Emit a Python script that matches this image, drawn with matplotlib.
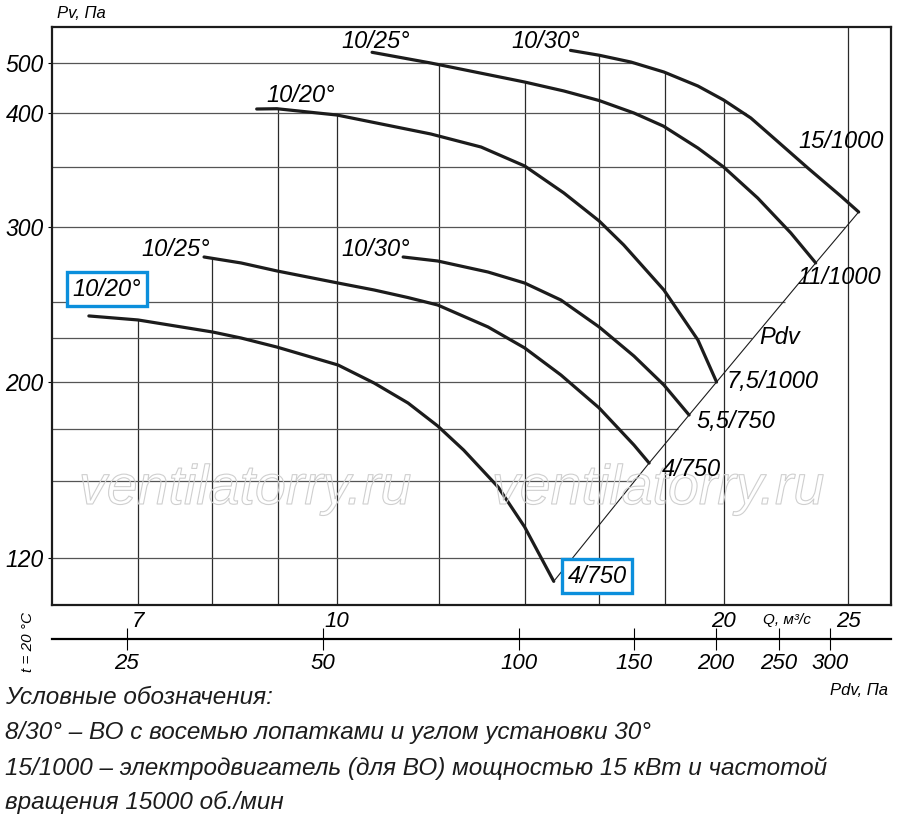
import numpy as np
import matplotlib
matplotlib.use('Agg')
import matplotlib.pyplot as plt
import matplotlib.patheffects as pe
from matplotlib.ticker import NullLocator

plt.rcParams['font.family'] = ['Liberation Sans', 'DejaVu Sans']

# fan curves: flow rate Q (m3/s) and static pressure Pv (Pa)
# lower group
q_20_low = [6.41, 7.0, 8.0, 8.42, 8.98, 10.02, 10.69, 11.36, 11.98, 12.55, 13.35, 14.0, 14.75]
pv_20_low = [240.0, 237.2, 229.0, 225.0, 219.6, 209.3, 199.4, 188.4, 176.5, 164.4, 147.4, 131.3, 112.3]
q_25_low = [7.88, 8.42, 8.98, 10.02, 10.69, 11.36, 11.98, 13.11, 14.0, 14.94, 16.0, 17.03, 17.5]
pv_25_low = [278.9, 274.9, 269.6, 261.8, 257.4, 252.7, 247.8, 232.4, 219.1, 203.8, 185.8, 166.9, 158.2]
q_30_low = [11.26, 11.98, 13.11, 14.0, 14.94, 16.0, 17.03, 17.97, 18.8]
pv_30_low = [278.9, 276.2, 268.9, 261.8, 251.2, 232.4, 214.4, 198.3, 182.1]
# upper group
q_20_up = [8.66, 8.98, 10.0, 11.83, 12.95, 14.0, 15.02, 16.0, 16.72, 17.97, 19.1, 19.75]
pv_20_up = [407.2, 407.7, 398.0, 379.8, 367.7, 350.9, 327.4, 304.7, 287.2, 257.4, 223.8, 200.0]
q_25_up = [10.65, 11.83, 14.0, 15.02, 16.0, 17.03, 17.95, 19.1, 20.0, 21.26, 22.56, 23.59]
pv_25_up = [525.2, 500, 459.3, 441.3, 422.9, 400, 387.3, 366.8, 350, 323.2, 295.7, 274.9]
q_30_up = [15.2, 16.0, 16.94, 17.97, 19.1, 20.0, 21.0, 21.88, 23.26, 24.67, 25.48]
pv_30_up = [529.9, 518.2, 502.2, 480.3, 451.2, 423.9, 395.1, 376.0, 349.1, 324.9, 311.8]

curves = [(q_20_low, pv_20_low), (q_25_low, pv_25_low), (q_30_low, pv_30_low),
          (q_20_up, pv_20_up), (q_25_up, pv_25_up), (q_30_up, pv_30_up)]

q_grid = [7, 8, 9, 10, 12, 14, 16, 18, 20, 25]
q_ticks = [7, 10, 20, 25]
pv_grid = [120, 150, 175, 200, 225, 250, 300, 350, 400, 500]
pv_ticks = [120, 200, 300, 400, 500]
pdv_ticks = [25, 50, 100, 150, 200, 250, 300]

# the printed Pv scale is not a clean log scale: spacing of its marks (px above bottom)
scale_vals = [105, 120, 150, 175, 200, 225, 250, 300, 350, 400, 500, 590]
scale_pos = [0, 47, 124, 176, 223, 267, 303, 378, 438, 492, 542, 578]
lv = np.log(scale_vals)

def fwd(v):
    return np.interp(np.log(np.clip(v, 1e-6, None)), lv, scale_pos)

def inv(s):
    return np.exp(np.interp(s, scale_pos, lv))

W, H = 900, 830
fig = plt.figure(figsize=(9, 8.3), dpi=100)
L, R, T, B = 52, 891, 27, 605
ax = fig.add_axes([L / W, 1 - B / H, (R - L) / W, (B - T) / H])
ax.set_xscale('log')
ax.set_yscale('function', functions=(fwd, inv))
ax.set_xlim(6.0, 27.0)
ax.set_ylim(105, 590)

# grid clipped by the working area of the curves
def top_at(q):
    vals = [np.interp(q, cq, cp) for cq, cp in curves if cq[0] <= q <= cq[-1]]
    return max(vals) if vals else 590

tops = [top_at(q) for q in q_grid]
tops[-1] = 590  # the 25 line runs to the frame
ax.vlines(q_grid, 105, tops, color='#2a2a2a', lw=0.9, zorder=1)

ends = sorted([(cq[-1], cp[-1]) for cq, cp in curves], key=lambda t: t[1])
edge_q = [e[0] for e in ends] + q_30_up[-2::-1]
edge_pv = [e[1] for e in ends] + pv_30_up[-2::-1]
xmax = [np.interp(v, edge_pv, edge_q) for v in pv_grid]
ax.hlines(pv_grid, 6.0, xmax, color='#555555', lw=0.9, zorder=1)

for cq, cp in curves:
    ax.plot(cq, cp, color='#1c1c1c', lw=2.3, solid_capstyle='round',
            solid_joinstyle='round', zorder=3)
ax.plot([e[0] for e in ends], [e[1] for e in ends], color='#1c1c1c', lw=0.8, zorder=2)

ax.set_xticks(q_ticks)
ax.set_xticklabels([str(t) for t in q_ticks])
ax.xaxis.set_minor_locator(NullLocator())
ax.set_yticks(pv_ticks)
ax.set_yticklabels([str(t) for t in pv_ticks])
ax.yaxis.set_minor_locator(NullLocator())
ax.tick_params(axis='x', length=0, pad=4, labelsize=16)
ax.tick_params(axis='y', length=3, width=0.8, pad=3, labelsize=16.5)
for lab in ax.get_xticklabels() + ax.get_yticklabels():
    lab.set_fontstyle('italic')
for sp in ax.spines.values():
    sp.set_linewidth(1.6)
    sp.set_color('#1c1c1c')

# dynamic pressure scale
ax2 = fig.add_axes([L / W, 1 - 639 / H, (R - L) / W, 1e-4])
ax2.set_xscale('log')
ax2.set_xlim(19.2, 371.5)
ax2.set_xticks(pdv_ticks)
ax2.set_xticklabels([str(t) for t in pdv_ticks])
ax2.xaxis.set_minor_locator(NullLocator())
ax2.set_yticks([])
ax2.patch.set_visible(False)
for k in ['top', 'left', 'right']:
    ax2.spines[k].set_visible(False)
ax2.spines['bottom'].set_linewidth(1.6)
ax2.tick_params(axis='x', direction='inout', length=16, width=0.8, pad=2, labelsize=16)
for lab in ax2.get_xticklabels():
    lab.set_fontstyle('italic')

def ptext(x, y, s, **kw):
    kw.setdefault('ha', 'center')
    kw.setdefault('va', 'center')
    kw.setdefault('fontstyle', 'italic')
    return fig.text(x / W, 1 - y / H, s, **kw)

blue = '#0b8fdc'
box = dict(boxstyle='square,pad=0.24', fc='white', ec=blue, lw=2.4)
ptext(107, 289, '10/20°', fontsize=17, bbox=box)
ptext(176, 250, '10/25°', fontsize=17)
ptext(376, 250, '10/30°', fontsize=17)
ptext(301, 95, '10/20°', fontsize=17)
ptext(376, 41, '10/25°', fontsize=17)
ptext(546, 41, '10/30°', fontsize=17)
ptext(841, 142, '15/1000', fontsize=17)
ptext(839, 277, '11/1000', fontsize=17)
ptext(780, 337, 'Pdv', fontsize=17)
ptext(773, 381, '7,5/1000', fontsize=17)
ptext(736, 421, '5,5/750', fontsize=17)
ptext(691, 469, '4/750', fontsize=17)
ptext(597, 576, '4/750', fontsize=17, bbox=box)

ptext(57, 14, 'Pv, Па', fontsize=12, ha='left')
ptext(787, 620, 'Q, м³/с', fontsize=11)
ptext(888, 690, 'Pdv, Па', fontsize=12, ha='right')
ptext(28, 642, 't = 20 °C', fontsize=11, rotation=90)

for x in (245, 658):
    ptext(x, 490, 'ventilatorry.ru', fontsize=40, color='none', zorder=2,
          path_effects=[pe.withStroke(linewidth=0.8, foreground='#cfcfcf')])

legend_lines = ['Условные обозначения:',
                '8/30° – ВО с восемью лопатками и углом установки 30°',
                '15/1000 – электродвигатель (для ВО) мощностью 15 кВт и частотой',
                'вращения 15000 об./мин']
for txt, y in zip(legend_lines, [697, 733, 768, 802]):
    ptext(5, y, txt, fontsize=17.5, ha='left', color='#1c1c1c')

fig.savefig('out.png', dpi=100, facecolor='white')
